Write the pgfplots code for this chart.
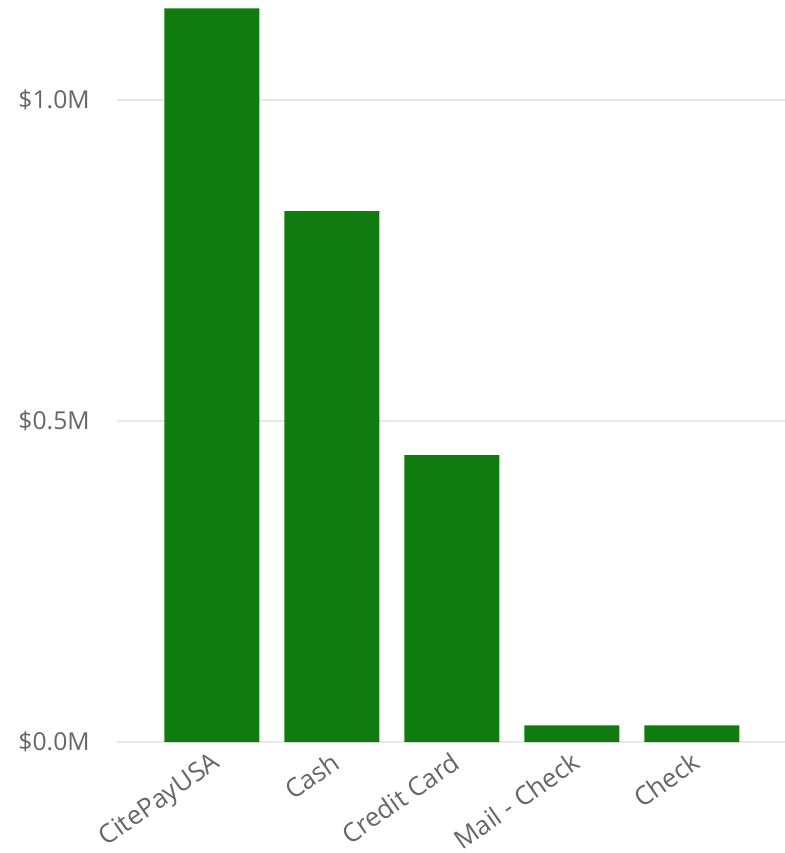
\documentclass[border=0pt]{standalone}
\usepackage{fontspec}
\setmainfont{Open Sans}
\usepackage{pgfplots}
\pgfplotsset{compat=1.18}
\definecolor{barg}{RGB}{16,124,16}
\definecolor{tickc}{RGB}{102,102,102}
\definecolor{gridc}{RGB}{232,232,232}
\begin{document}
\begin{tikzpicture}
\begin{axis}[
  scale only axis,
  width=501pt, height=556.5pt,
  xmin=-0.79, xmax=4.775,
  ymin=0, ymax=1.156,
  axis line style={draw=none},
  ybar, bar width=71.25pt,
  xtick=data,
  xticklabels={CitePayUSA,Cash,Credit Card,Mail - Check,Check},
  ytick={0,0.5,1},
  yticklabels={\$0.0M,\$0.5M,\$1.0M},
  tick style={draw=none},
  ymajorgrids, grid style={gridc, line width=1.2pt},
  ticklabel style={text=tickc},
  xticklabel style={font=\fontsize{19.5}{22}\selectfont, rotate=35, anchor=north east, inner sep=1pt, xshift=-1pt},
  yticklabel style={font=\fontsize{18.5}{22}\selectfont, xshift=-17pt},
  clip=false,
]
\addplot[fill=barg, draw=none] coordinates {(0,1.143) (1,0.827) (2,0.447) (3,0.026) (4,0.026)};
\end{axis}
\pgfresetboundingbox
\path ([xshift=-87.75pt, yshift=-83.25pt]current axis.south west) rectangle (current axis.north east);
\end{tikzpicture}
\end{document}
